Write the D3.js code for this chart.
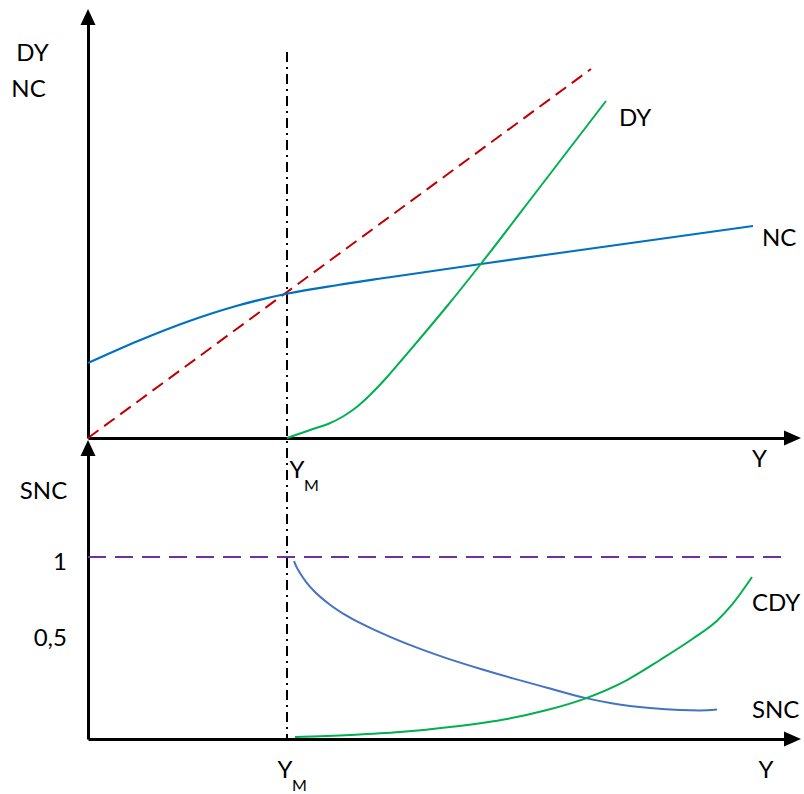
<!DOCTYPE html>
<html><head><meta charset="utf-8">
<script src="https://cdn.jsdelivr.net/npm/d3@7"></script>
<style>
html,body{margin:0;padding:0;background:#fff;}
text{font-family:Lato,"Noto Sans",sans-serif;fill:#000;}
</style></head>
<body>
<svg id="chart" width="804" height="794"></svg>
<script>
// ---- data (abstract units) ----
const YM = 199;                      // position of Y_M on the income axis
const xMax = 713;                    // income axis length
const topMax = 429;                  // top panel vertical axis length
const dashTop = 386;                 // top of the Y_M guide line
// top panel curves: [Y, value]
const ncX  = [0, 50, 100, 150, 200, 250, 300, 400, 500, 665];
const ncV  = [75, 97, 116.5, 132.5, 144.5, 153, 160.5, 175, 189, 212];
const dyX  = [199, 212, 225, 240, 255, 270, 285, 300, 315, 335, 360, 392, 452, 518];
const dyV  = [0, 4.5, 9, 14, 21.5, 32, 46, 62, 79.5, 103, 133, 173, 251, 337];
const diagX = [0, 503];
const diagV = [0, 369];
// bottom panel curves: [Y, share]
const sncX = [206, 209, 212, 218, 225, 242, 259, 292, 325, 359, 392, 425, 459, 497, 525, 562, 592, 612, 629];
const sncV = [0.978, 0.940, 0.912, 0.863, 0.819, 0.738, 0.676, 0.586, 0.510, 0.443, 0.386, 0.333, 0.282, 0.226, 0.195, 0.170, 0.159, 0.157, 0.162];
const cdyX = [207, 262, 312, 362, 419, 459, 497, 539, 572, 605, 629, 645, 664];
const cdyV = [0.011, 0.022, 0.038, 0.066, 0.110, 0.159, 0.222, 0.324, 0.434, 0.552, 0.650, 0.745, 0.890];
const oneLineEnd = 697;
const sncTickPos = [1, 0.58];
const sncTickLabels = ["1", "0,5"];

const svg = d3.select("#chart");
const x = d3.scaleLinear().domain([0, xMax]).range([88, 801]);
const yTop = d3.scaleLinear().domain([0, topMax]).range([438, 9]);
const yBot = d3.scaleLinear().domain([0, 1]).range([739, 557]);

const zip = (a, b) => a.map((v, i) => [v, b[i]]);

// ---- axes ----
function hAxis(yPix) {
  const g = svg.append("g").attr("transform", `translate(0,${yPix})`)
    .call(d3.axisBottom(d3.scaleLinear().domain([0, 1]).range([x(0), x(xMax) - 12])).tickValues([]).tickSizeOuter(0));
  g.select(".domain").attr("stroke", "#000").attr("stroke-width", 3);
  svg.append("path").attr("d", `M${x(xMax)},${yPix} L${x(xMax) - 17},${yPix - 7.5} L${x(xMax) - 17},${yPix + 7.5} Z`).attr("fill", "#000");
}
function vAxis(y0, y1) {
  const g = svg.append("g").attr("transform", `translate(${x(0)},0)`)
    .call(d3.axisLeft(d3.scaleLinear().domain([0, 1]).range([y0, y1 + 12])).tickValues([]).tickSizeOuter(0));
  g.select(".domain").attr("stroke", "#000").attr("stroke-width", 3);
  svg.append("path").attr("d", `M${x(0)},${y1} L${x(0) - 7.5},${y1 + 16} L${x(0) + 7.5},${y1 + 16} Z`).attr("fill", "#000");
}
vAxis(yTop(0), yTop(topMax));
vAxis(yBot(0), 440);
hAxis(yTop(0));
hAxis(yBot(0));

// ---- guide lines ----
svg.append("line").attr("x1", x(YM)).attr("x2", x(YM)).attr("y1", yTop(dashTop)).attr("y2", yBot(0))
  .attr("stroke", "#000").attr("stroke-width", 2).attr("stroke-dasharray", "10,5,2,5");
svg.append("line").attr("x1", x(0)).attr("x2", x(oneLineEnd)).attr("y1", yBot(1)).attr("y2", yBot(1))
  .attr("stroke", "#7030A0").attr("stroke-width", 2).attr("stroke-dasharray", "18,9");

// ---- curves ----
const lineTop = d3.line().x(d => x(d[0])).y(d => yTop(d[1])).curve(d3.curveMonotoneX);
const lineBot = d3.line().x(d => x(d[0])).y(d => yBot(d[1])).curve(d3.curveMonotoneX);

svg.append("path").attr("d", lineTop(zip(diagX, diagV))).attr("fill", "none")
  .attr("stroke", "#C00000").attr("stroke-width", 2).attr("stroke-dasharray", "13,7");
svg.append("path").attr("d", lineTop(zip(ncX, ncV))).attr("fill", "none")
  .attr("stroke", "#0070C0").attr("stroke-width", 2.2);
svg.append("path").attr("d", lineTop(zip(dyX, dyV))).attr("fill", "none")
  .attr("stroke", "#00B050").attr("stroke-width", 2);
svg.append("path").attr("d", lineBot(zip(sncX, sncV))).attr("fill", "none")
  .attr("stroke", "#4472C4").attr("stroke-width", 2);
svg.append("path").attr("d", lineBot(zip(cdyX, cdyV))).attr("fill", "none")
  .attr("stroke", "#00B050").attr("stroke-width", 2);

// ---- texts ----
function txt(s, px, py, anchor, size) {
  return svg.append("text").attr("x", px).attr("y", py).attr("text-anchor", anchor || "start")
    .attr("font-size", size || 24).text(s);
}
txt("DY", 32.5, 61, "middle");
txt("NC", 28.5, 97, "middle");
txt("DY", 619, 126);
txt("NC", 762, 246);
txt("Y", 759.5, 467, "middle");
txt("Y", 297, 478, "middle");
txt("M", 304, 491, "start", 16);
txt("SNC", 43.5, 499, "middle");
sncTickPos.forEach((v, i) => txt(sncTickLabels[i], 67, yBot(v) + 13, "end"));
txt("CDY", 752, 611);
txt("SNC", 752, 718);
txt("Y", 285, 778, "middle");
txt("M", 292, 791, "start", 16);
txt("Y", 766, 778, "middle");
</script>
</body></html>
